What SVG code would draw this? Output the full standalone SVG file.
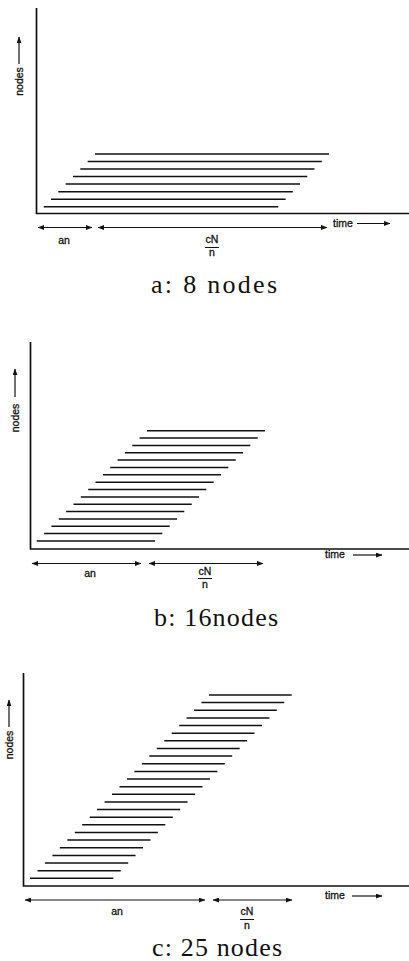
<svg xmlns="http://www.w3.org/2000/svg" width="409" height="961" viewBox="0 0 409 961">
<style>
.ax{stroke:#111;stroke-width:1.7;fill:none}
.ln{stroke:#111;stroke-width:1.5;fill:none}
.ar{stroke:#111;stroke-width:1.2;fill:none}
.lb{font-family:"Liberation Sans",Arial,sans-serif;font-size:10.5px;fill:#111;stroke:#111;stroke-width:0.3}
.cap{font-family:"Liberation Serif","Times New Roman",serif;font-size:26px;fill:#111;text-anchor:middle}
</style>
<defs>
<marker id="ah" viewBox="0 0 8 6" refX="7.5" refY="3" markerWidth="7" markerHeight="5" markerUnits="userSpaceOnUse" orient="auto-start-reverse">
<path d="M0,0 L8,3 L0,6 Z" fill="#111"/>
</marker>
</defs>

<g id="panel-a">
<g id="a-axes">
<path class="ax" d="M36.5,8 V213.5 H409"/>
</g>
<g id="a-tasks" class="ln">
<line x1="95" y1="154" x2="329" y2="154"/>
<line x1="87.7" y1="161.5" x2="321.8" y2="161.5"/>
<line x1="80.3" y1="169.1" x2="314.5" y2="169.1"/>
<line x1="73" y1="176.6" x2="307.3" y2="176.6"/>
<line x1="65.7" y1="184.1" x2="300" y2="184.1"/>
<line x1="58.3" y1="191.7" x2="292.8" y2="191.7"/>
<line x1="51" y1="199.2" x2="285.6" y2="199.2"/>
<line x1="43.7" y1="206.7" x2="278.3" y2="206.7"/>
</g>
<g id="a-connectors" class="ar">
<line x1="38" y1="227.5" x2="92" y2="227.5" marker-start="url(#ah)" marker-end="url(#ah)"/>
<line x1="98" y1="227.5" x2="327" y2="227.5" marker-start="url(#ah)" marker-end="url(#ah)"/>
<line x1="357" y1="223.5" x2="390" y2="223.5" marker-end="url(#ah)"/>
<line x1="19" y1="64" x2="19" y2="37" marker-end="url(#ah)"/>
</g>
<g id="a-labels">
<text class="lb" transform="translate(22.5,81.5) rotate(-90)" text-anchor="middle">nodes</text>
<text class="lb" x="333" y="226.5">time</text>
<text class="lb" x="64" y="243.5" text-anchor="middle">an</text>
<text class="lb" x="212" y="243" text-anchor="middle">cN</text>
<line x1="205" y1="247.5" x2="219" y2="247.5" stroke="#111" stroke-width="1"/>
<text class="lb" x="212" y="256" text-anchor="middle">n</text>
<text class="cap" x="214" y="293" textLength="126" lengthAdjust="spacing">a:  8 nodes</text>
</g>
</g>

<g id="panel-b">
<g id="b-axes">
<path class="ax" d="M30.5,342 V549 H409"/>
</g>
<g id="b-tasks" class="ln">
<line x1="147" y1="430.7" x2="265" y2="430.7"/>
<line x1="139.6" y1="438.1" x2="257.7" y2="438.1"/>
<line x1="132.3" y1="445.4" x2="250.3" y2="445.4"/>
<line x1="124.9" y1="452.8" x2="243" y2="452.8"/>
<line x1="117.6" y1="460.1" x2="235.7" y2="460.1"/>
<line x1="110.2" y1="467.5" x2="228.3" y2="467.5"/>
<line x1="102.9" y1="474.8" x2="221" y2="474.8"/>
<line x1="95.5" y1="482.2" x2="213.7" y2="482.2"/>
<line x1="88.2" y1="489.5" x2="206.3" y2="489.5"/>
<line x1="80.8" y1="496.9" x2="199" y2="496.9"/>
<line x1="73.5" y1="504.2" x2="191.7" y2="504.2"/>
<line x1="66.1" y1="511.6" x2="184.3" y2="511.6"/>
<line x1="58.8" y1="518.9" x2="177" y2="518.9"/>
<line x1="51.4" y1="526.3" x2="169.7" y2="526.3"/>
<line x1="44.1" y1="533.6" x2="162.3" y2="533.6"/>
<line x1="36.7" y1="541" x2="155" y2="541"/>
</g>
<g id="b-connectors" class="ar">
<line x1="32" y1="563.5" x2="141" y2="563.5" marker-start="url(#ah)" marker-end="url(#ah)"/>
<line x1="149" y1="563.5" x2="263" y2="563.5" marker-start="url(#ah)" marker-end="url(#ah)"/>
<line x1="353" y1="555" x2="382" y2="555" marker-end="url(#ah)"/>
<line x1="15" y1="397" x2="15" y2="369" marker-end="url(#ah)"/>
</g>
<g id="b-labels">
<text class="lb" transform="translate(18.5,418) rotate(-90)" text-anchor="middle">nodes</text>
<text class="lb" x="325" y="558">time</text>
<text class="lb" x="90" y="577" text-anchor="middle">an</text>
<text class="lb" x="205" y="575" text-anchor="middle">cN</text>
<line x1="198" y1="578.5" x2="212" y2="578.5" stroke="#111" stroke-width="1"/>
<text class="lb" x="205" y="587.5" text-anchor="middle">n</text>
<text class="cap" x="216" y="626" textLength="124" lengthAdjust="spacing">b:  16nodes</text>
</g>
</g>

<g id="panel-c">
<g id="c-axes">
<path class="ax" d="M23.5,673 V886 H409"/>
</g>
<g id="c-tasks" class="ln">
<line x1="209" y1="695" x2="291.7" y2="695"/>
<line x1="201.5" y1="702.6" x2="284.3" y2="702.6"/>
<line x1="194.1" y1="710.3" x2="276.8" y2="710.3"/>
<line x1="186.6" y1="717.9" x2="269.4" y2="717.9"/>
<line x1="179.2" y1="725.6" x2="262" y2="725.6"/>
<line x1="171.7" y1="733.2" x2="254.5" y2="733.2"/>
<line x1="164.3" y1="740.8" x2="247.1" y2="740.8"/>
<line x1="156.8" y1="748.5" x2="239.7" y2="748.5"/>
<line x1="149.3" y1="756.1" x2="232.2" y2="756.1"/>
<line x1="141.9" y1="763.7" x2="224.8" y2="763.7"/>
<line x1="134.4" y1="771.4" x2="217.4" y2="771.4"/>
<line x1="127" y1="779" x2="209.9" y2="779"/>
<line x1="119.5" y1="786.7" x2="202.5" y2="786.7"/>
<line x1="112" y1="794.3" x2="195.1" y2="794.3"/>
<line x1="104.6" y1="801.9" x2="187.6" y2="801.9"/>
<line x1="97.1" y1="809.6" x2="180.2" y2="809.6"/>
<line x1="89.7" y1="817.2" x2="172.8" y2="817.2"/>
<line x1="82.2" y1="824.8" x2="165.3" y2="824.8"/>
<line x1="74.8" y1="832.5" x2="157.9" y2="832.5"/>
<line x1="67.3" y1="840.1" x2="150.5" y2="840.1"/>
<line x1="59.8" y1="847.8" x2="143" y2="847.8"/>
<line x1="52.4" y1="855.4" x2="135.6" y2="855.4"/>
<line x1="44.9" y1="863" x2="128.2" y2="863"/>
<line x1="37.5" y1="870.7" x2="120.7" y2="870.7"/>
<line x1="30" y1="878.3" x2="113.3" y2="878.3"/>
</g>
<g id="c-connectors" class="ar">
<line x1="25" y1="900" x2="205" y2="900" marker-start="url(#ah)" marker-end="url(#ah)"/>
<line x1="213" y1="900" x2="292" y2="900" marker-start="url(#ah)" marker-end="url(#ah)"/>
<line x1="352" y1="896" x2="382" y2="896" marker-end="url(#ah)"/>
<line x1="9" y1="727" x2="9" y2="700" marker-end="url(#ah)"/>
</g>
<g id="c-labels">
<text class="lb" transform="translate(12.5,745) rotate(-90)" text-anchor="middle">nodes</text>
<text class="lb" x="325" y="898.5">time</text>
<text class="lb" x="117" y="915" text-anchor="middle">an</text>
<text class="lb" x="247" y="915" text-anchor="middle">cN</text>
<line x1="240" y1="919.5" x2="254" y2="919.5" stroke="#111" stroke-width="1"/>
<text class="lb" x="247" y="929" text-anchor="middle">n</text>
<text class="cap" x="217" y="956" textLength="130" lengthAdjust="spacing">c:  25 nodes</text>
</g>
</g>
</svg>
